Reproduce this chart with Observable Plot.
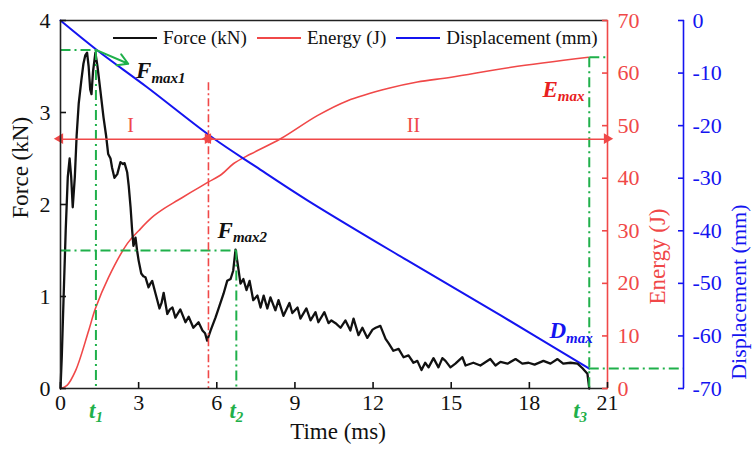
<!DOCTYPE html>
<html>
<head>
<meta charset="utf-8">
<script src="https://cdn.jsdelivr.net/npm/d3@7"></script>
<script src="https://cdn.jsdelivr.net/npm/@observablehq/plot@0.6"></script>
<style>
  html, body { margin: 0; padding: 0; background: #fff; }
  #wrap { position: relative; width: 752px; height: 450px; font-family: "Liberation Serif", "Times New Roman", serif; }
  #legend { position: absolute; left: 113px; top: 27px; display: flex; align-items: center; font-size: 19px; color: #111; white-space: nowrap; }
  #legend .item { display: flex; align-items: center; margin-right: 10px; }
  #legend .sw { width: 44px; height: 0; border-top: 2px solid; margin-right: 6px; }
</style>
</head>
<body>
<div id="wrap">
  <div id="chart"></div>
  <div id="legend"></div>
</div>
<script>
// ---- data ----
const forceT = [0,0.05,0.12,0.2,0.28,0.35,0.41,0.47,0.55,0.62,0.7,0.8,0.88,0.95,1.02,1.08,1.14,1.19,1.25,1.34,1.42,1.53,1.65,1.75,1.83,1.92,1.98,2.07,2.18,2.3,2.4,2.46,2.56,2.62,2.69,2.75,2.8,2.88,2.94,3.0,3.1,3.18,3.26,3.38,3.45,3.52,3.65,3.8,3.88,3.96,4.1,4.2,4.3,4.41,4.6,4.8,4.92,5.1,5.3,5.45,5.55,5.63,5.76,5.95,6.07,6.26,6.4,6.53,6.63,6.72,6.8,6.91,7.02,7.14,7.26,7.4,7.56,7.68,7.8,7.94,8.06,8.25,8.37,8.56,8.79,8.9,9.1,9.21,9.44,9.6,9.79,9.9,10.13,10.29,10.4,10.56,10.75,10.94,11.13,11.25,11.44,11.59,11.78,11.98,12.1,12.28,12.48,12.6,12.78,12.98,13.17,13.36,13.55,13.7,13.86,14.0,14.13,14.32,14.51,14.66,14.78,14.97,15.16,15.43,15.55,15.85,16.12,16.5,16.7,16.89,17.16,17.47,17.73,17.97,18.2,18.54,18.81,19.08,19.3,19.58,19.85,20.04,20.23,20.3];
const forceF = [0,0.35,1.0,1.72,2.3,2.5,2.3,1.97,2.3,2.75,3.1,3.35,3.53,3.62,3.65,3.5,3.25,3.2,3.45,3.65,3.5,3.24,2.95,2.75,2.55,2.5,2.4,2.29,2.33,2.46,2.44,2.45,2.35,2.2,1.97,1.72,1.55,1.64,1.5,1.39,1.25,1.22,1.21,1.1,1.14,1.17,1.03,0.87,0.93,1.04,0.81,0.86,0.88,0.77,0.86,0.72,0.78,0.66,0.72,0.63,0.6,0.52,0.63,0.77,0.87,1.03,1.17,1.19,1.28,1.51,1.36,1.14,1.19,1.07,1.17,0.96,1.01,0.88,1.01,0.87,0.99,0.85,0.96,0.79,0.93,0.82,0.88,0.76,0.87,0.74,0.83,0.72,0.83,0.71,0.74,0.71,0.66,0.74,0.63,0.76,0.58,0.66,0.55,0.64,0.66,0.68,0.54,0.49,0.41,0.43,0.34,0.36,0.28,0.3,0.2,0.28,0.23,0.33,0.23,0.33,0.3,0.23,0.27,0.34,0.25,0.28,0.25,0.32,0.25,0.29,0.27,0.32,0.27,0.28,0.26,0.3,0.27,0.32,0.27,0.28,0.27,0.22,0.16,0];
const energyT = [0,0.25,0.58,1.08,1.34,1.84,2.57,3.0,3.5,4.0,4.5,5.0,5.65,6.2,6.65,7.3,8.45,9.86,11.0,12.6,13.7,15.0,17.3,20.27];
const energyE = [0,0.6,3.4,11,15.2,21.1,27.6,30,32.5,34.3,35.8,37.3,39.2,40.8,42.8,44.6,47.5,51.9,54.7,57.1,58.3,59.2,61.1,63.0];
const dispT = [0,1.42,3.3,5.87,7.5,9.48,13.3,16.9,20.3];
const dispD = [0,-5.7,-12.6,-22.4,-27.8,-34.2,-45.6,-56.1,-66.2];

const timeTicks = [0,3,6,9,12,15,18,21];
const forceTicks = [0,1,2,3,4];
const energyTicks = [0,10,20,30,40,50,60,70];
const dispTicks = [0,-10,-20,-30,-40,-50,-60,-70];

const seriesNames = ["Force (kN)", "Energy (J)", "Displacement (mm)"];
const seriesColors = ["#111111", "#f04848", "#1414f0"];

// key points
const t1 = 1.36, Fmax1 = 3.68;
const t2 = 6.75, Fmax2 = 1.5;
const t3 = 20.3, Emax = 63, Dmax = -66.2;
const tSplit = 5.68, splitTop = 3.33, stageF = 2.71;

// ---- helpers: map energy / displacement into the force scale ----
const eToF = e => e * 4 / 70;
const dToF = d => (d + 70) * 4 / 70;
const GREEN = "#1fb04a", RED = "#f04848", BLUE = "#1414f0";
const SERIF = "'Liberation Serif','Times New Roman',serif";

const forceData = forceT.map((t, i) => ({t, v: forceF[i]}));
const energyData = energyT.map((t, i) => ({t, v: eToF(energyE[i])}));
const dispData = dispT.map((t, i) => ({t, v: dToF(dispD[i])}));

const guides = [
  {x1: 0, y1: Fmax1, x2: t1, y2: Fmax1},
  {x1: t1, y1: Fmax1, x2: t1, y2: 0},
  {x1: 0, y1: Fmax2, x2: t2, y2: Fmax2},
  {x1: t2, y1: Fmax2, x2: t2, y2: 0},
  {x1: t3, y1: eToF(Emax), x2: 21, y2: eToF(Emax)},
  {x1: t3, y1: eToF(Emax), x2: t3, y2: 0}
];
const stages = [
  {x1: 0, x2: tSplit, y: stageF, label: "I", lx: 2.69},
  {x1: tSplit, x2: 21, y: stageF, label: "II", lx: 13.55}
];
const heads = [
  {x: 0, y: stageF, r: -90, dx: 4},
  {x: tSplit, y: stageF, r: 90, dx: -4},
  {x: tSplit, y: stageF, r: -90, dx: 4},
  {x: 21, y: stageF, r: 90, dx: -4}
];
const subLabels = [
  {x: 2.9, y: 3.45, s: "F|max1", c: "#111"},
  {x: 6.03, y: 1.72, s: "F|max2", c: "#111"},
  {x: 18.5, y: eToF(56.9), s: "E|max", c: "#e82020"},
  {x: 18.77, y: dToF(-59.0), s: "D|max", c: BLUE}
];
const tLabels = [
  {x: t1, s: "t|1"}, {x: t2, s: "t|2"}, {x: t3 - 0.35, s: "t|3"}
];

const chart = Plot.plot({
  width: 752, height: 450,
  marginLeft: 60, marginRight: 145, marginTop: 20, marginBottom: 62,
  style: {fontFamily: SERIF, fontSize: "22px", background: "white", color: "#111"},
  x: {domain: [0, 21]},
  y: {domain: [0, 4]},
  marks: [
    // curves
    Plot.line(energyData, {x: "t", y: "v", stroke: seriesColors[1], strokeWidth: 1.6, curve: "catmull-rom"}),
    Plot.line(dispData, {x: "t", y: "v", stroke: seriesColors[2], strokeWidth: 2, curve: "catmull-rom"}),
    Plot.line(forceData, {x: "t", y: "v", stroke: seriesColors[0], strokeWidth: 2.3, strokeLinejoin: "round"}),
    // guides
    Plot.link(guides, {x1: "x1", y1: "y1", x2: "x2", y2: "y2", stroke: GREEN, strokeWidth: 2, strokeDasharray: "10,4,2,4"}),
    Plot.ruleY([{y: dToF(Dmax), x1: t3, x2: 21}], {y: "y", x1: "x1", x2: "x2", insetRight: -76, stroke: GREEN, strokeWidth: 2, strokeDasharray: "10,4,2,4"}),
    Plot.link([{x: tSplit, y1: splitTop, y2: 0}], {x1: "x", x2: "x", y1: "y1", y2: "y2", stroke: RED, strokeWidth: 1.6, strokeDasharray: "8,3,2,3"}),
    Plot.link(stages, {x1: "x1", x2: "x2", y1: "y", y2: "y", stroke: RED, strokeWidth: 1.6}),
    Plot.dot(heads, {x: "x", y: "y", rotate: "r", dx: "dx", symbol: "triangle", r: 4, fill: RED, stroke: "none"}),
    Plot.text(stages, {x: "lx", y: "y", text: "label", dy: -14, fill: RED, fontSize: 20}),
    Plot.arrow([{x1: t1, y1: Fmax1, x2: 2.6, y2: 3.53}], {x1: "x1", y1: "y1", x2: "x2", y2: "y2", stroke: GREEN, strokeWidth: 2, headLength: 9}),
    // frame
    Plot.ruleX([0], {stroke: "#222", strokeWidth: 1.6}),
    Plot.ruleY([0, 4], {stroke: "#222", strokeWidth: 1.6}),
    Plot.ruleX([21], {stroke: RED, strokeWidth: 1.6}),
    Plot.ruleX([21], {dx: 76, stroke: BLUE, strokeWidth: 1.6}),
    // axes
    Plot.axisX(timeTicks, {tickSize: -6, tickPadding: 12, label: null, fontSize: 22, color: "#111", strokeWidth: 1.6, tickFormat: d => String(d)}),
    Plot.axisY(forceTicks, {tickSize: -6, tickPadding: 16, label: null, fontSize: 22, color: "#111", strokeWidth: 1.6, tickFormat: d => String(d)}),
    Plot.axisY(energyTicks.map(eToF), {anchor: "right", tickSize: -6, tickPadding: 16, label: null, fontSize: 22, color: RED, strokeWidth: 1.6, tickFormat: d => String(Math.round(d * 70 / 4))}),
    Plot.axisY(dispTicks.map(dToF), {anchor: "right", dx: 76, tickSize: -6, tickPadding: 15, label: null, fontSize: 22, color: BLUE, strokeWidth: 1.6, tickFormat: d => String(Math.round(d * 70 / 4 - 70))}),
    // axis titles
    Plot.text(["Force (kN)"], {frameAnchor: "left", rotate: -90, dx: -40, dy: 14, fontSize: 23, fill: "#111"}),
    Plot.text(["Time (ms)"], {frameAnchor: "bottom", dy: 50, dx: 4, fontSize: 23, fill: "#111"}),
    Plot.text(["Energy (J)"], {frameAnchor: "right", rotate: -90, dx: 50, dy: 4, fontSize: 23, fill: RED}),
    Plot.text(["Displacement (mm)"], {frameAnchor: "right", rotate: -90, dx: 131, fontSize: 22, fill: BLUE}),
    // annotation labels
    Plot.text(subLabels, {x: "x", y: "y", text: "s", fill: "c", textAnchor: "start", fontSize: 23, fontWeight: "bold", fontStyle: "italic"}),
    Plot.text(tLabels, {x: "x", y: () => 0, text: "s", dy: 22, fill: GREEN, fontSize: 23, fontWeight: "bold", fontStyle: "italic"})
  ]
});

// subscripts: split "main|sub"
d3.select(chart).selectAll("text").each(function () {
  const s = this.textContent;
  if (s.includes("|") && this.children.length === 0) {
    const [main, sub] = s.split("|");
    this.textContent = main;
    d3.select(this).append("tspan").attr("font-size", "15px").attr("dy", "0.3em").text(sub);
  }
});

document.getElementById("chart").appendChild(chart);

const legend = document.getElementById("legend");
seriesNames.forEach((name, i) => {
  const it = document.createElement("div");
  it.className = "item";
  const sw = document.createElement("span");
  sw.className = "sw";
  sw.style.borderTopColor = seriesColors[i];
  const tx = document.createElement("span");
  tx.textContent = name;
  it.appendChild(sw); it.appendChild(tx);
  legend.appendChild(it);
});
</script>
</body>
</html>
